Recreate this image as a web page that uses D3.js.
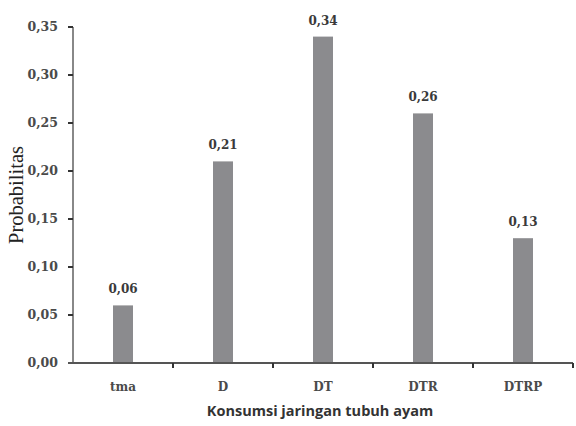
<!DOCTYPE html>
<html><head><meta charset="utf-8">
<script src="https://cdn.jsdelivr.net/npm/d3@7"></script>
<style>body{margin:0;background:#fff}</style>
</head><body>
<svg id="c" width="576" height="426"></svg>
<script>
const categories = ["tma","D","DT","DTR","DTRP"];
const values = [0.06,0.21,0.34,0.26,0.13];
const yTicks = [0,0.05,0.10,0.15,0.20,0.25,0.30,0.35];

const svg = d3.select("#c");
const m = {l:73, r:3, t:27, b:63};
const W = 576, H = 426;
const x = d3.scaleBand().domain(categories).range([m.l, W-m.r]).paddingInner(0.8).paddingOuter(0.4);
const xb = d3.scaleBand().domain(categories).range([m.l, W-m.r]);
const y = d3.scaleLinear().domain([0,0.35]).range([H-m.b, m.t]);
const fmt = v => d3.format(".2f")(v).replace(".", ",");
const tickFont = "'DejaVu Serif',serif";

svg.selectAll("rect.bar").data(values).join("rect")
  .attr("x",(d,i)=>x(categories[i])).attr("width",x.bandwidth())
  .attr("y",d=>y(d)).attr("height",d=>y(0)-y(d)).attr("fill","#8b8b8e");

svg.selectAll("text.val").data(values).join("text")
  .attr("x",(d,i)=>x(categories[i])+x.bandwidth()/2).attr("y",d=>y(d)-12)
  .attr("text-anchor","middle").attr("font-family",tickFont).attr("font-weight","bold")
  .attr("font-size",12).attr("fill","#3a3a3a").text(d=>fmt(d));

// y axis
const ya = svg.append("g");
ya.append("line").attr("x1",m.l).attr("x2",m.l).attr("y1",y(0.35)).attr("y2",y(0)).attr("stroke","#888").attr("stroke-width",2);
ya.selectAll("line.t").data(yTicks).join("line").attr("x1",m.l-5).attr("x2",m.l).attr("y1",d=>y(d)).attr("y2",d=>y(d)).attr("stroke","#333").attr("stroke-width",2);
ya.selectAll("text").data(yTicks).join("text").attr("x",m.l-15).attr("y",d=>y(d)).attr("dy","0.35em")
  .attr("text-anchor","end").attr("font-family",tickFont).attr("font-weight","bold").attr("font-size",12.5).attr("fill","#4a4a4a").text(d=>fmt(d));

// x axis
const xa = svg.append("g");
xa.append("line").attr("x1",m.l-5).attr("x2",W-m.r).attr("y1",y(0)).attr("y2",y(0)).attr("stroke","#555").attr("stroke-width",2);
const bounds = categories.map(c=>xb(c)+xb.bandwidth());
xa.selectAll("line.t").data(bounds).join("line").attr("x1",d=>d).attr("x2",d=>d).attr("y1",y(0)).attr("y2",y(0)+5).attr("stroke","#333").attr("stroke-width",2);
xa.selectAll("text").data(categories).join("text").attr("x",c=>xb(c)+xb.bandwidth()/2).attr("y",y(0)+28)
  .attr("text-anchor","middle").attr("font-family",tickFont).attr("font-weight","bold").attr("font-size",12).attr("fill","#4a4a4a").text(c=>c);

svg.append("text").attr("x",(m.l+W-m.r)/2 - 3).attr("y",416).attr("text-anchor","middle")
  .attr("font-family","'Open Sans',sans-serif").attr("font-weight","bold").attr("font-size",14.5).attr("fill","#333")
  .text("Konsumsi jaringan tubuh ayam");

svg.append("text").attr("transform","translate(23,195) rotate(-90)").attr("text-anchor","middle")
  .attr("font-family","'Liberation Serif','DejaVu Serif',serif").attr("font-size",20.5).attr("fill","#222")
  .text("Probabilitas");
</script>
</body></html>
